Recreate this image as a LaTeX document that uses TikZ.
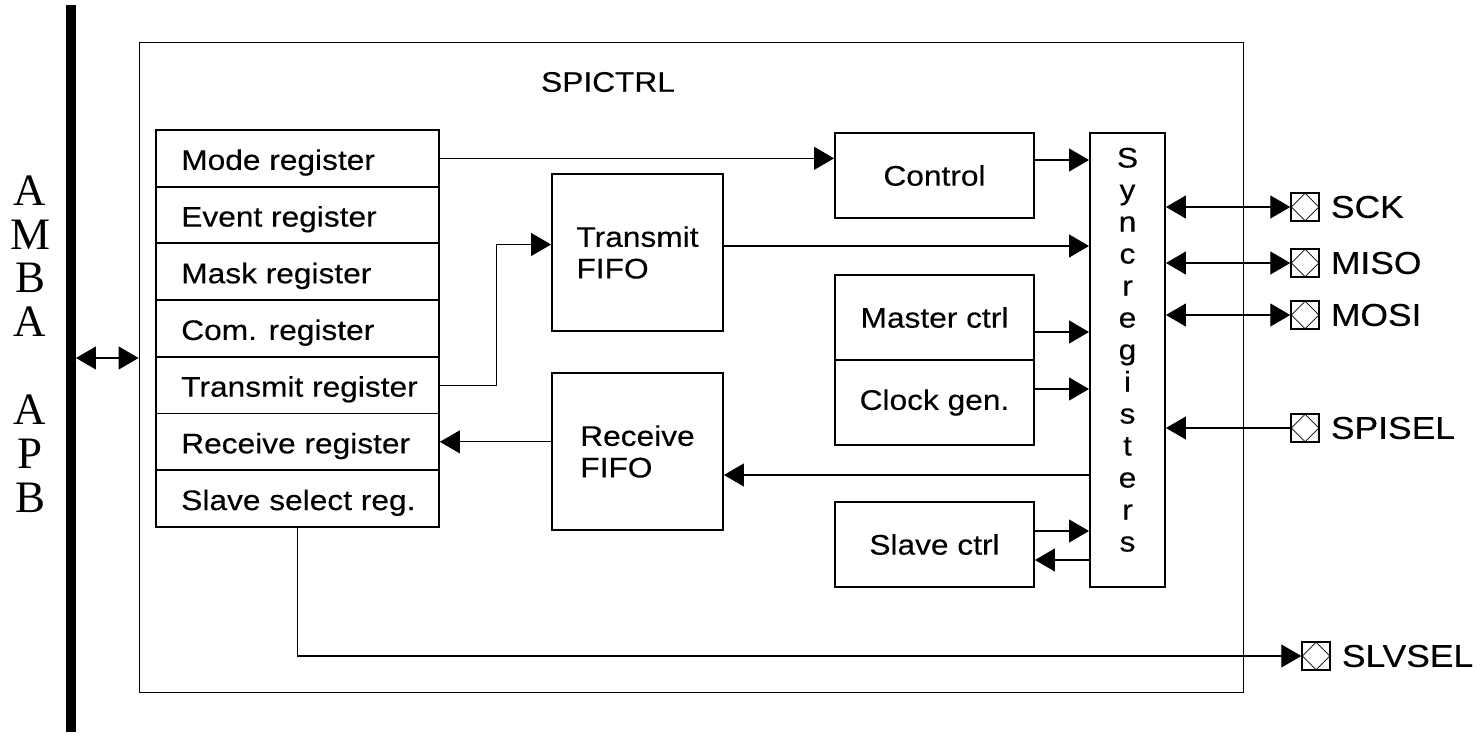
\documentclass[tikz,border=0pt]{standalone}
\usepackage{fontspec}
\setmainfont{Liberation Sans}[FakeStretch=1.12,FakeBold=0.3]
\newfontfamily\ambafont{Liberation Serif}
\usepackage{tikz}
\usetikzlibrary{arrows.meta}
\tikzset{
    Box/.style = {draw,line width=1.1pt,inner sep=0pt},
    Pad/.style = {draw,line width=1.1pt,minimum size=0.55cm,inner sep=0pt,
        path picture={\draw[line width=0.4pt] (path picture bounding box.north)
          -- (path picture bounding box.east) -- (path picture bounding box.south)
          -- (path picture bounding box.west) -- cycle;}},
    Wire/.style = {line width=0.6pt,>={Triangle[length=11.3pt,width=13pt]}},
    padtxt/.style = {font=\fontsize{18}{20}\selectfont,anchor=west}
}

\begin{document}
\begin{tikzpicture}[x=0.02cm,y=-0.02cm,font=\fontsize{16.1}{18}\selectfont]
        \useasboundingbox (0,0) rectangle (1482,740);
        % APB bus
        \coordinate (busT) at (71,5);
        \coordinate (busB) at (71,732);
        \draw[line width=0.2cm] (busT) -- (busB);
        \node[align=center,font=\ambafont\fontsize{25.6}{24.94}\selectfont] (amba) at (30,344)
            {A\\M\\B\\A\\[0.88cm]A\\P\\B};
        % core
        \node[draw,line width=0.6pt,minimum width=22.1cm,minimum height=13.02cm] (core) at (691.5,367.5) {};
        \node (title) at (608,82) {SPICTRL};
        \coordinate (busA) at (76,358);
        \draw[Wire,<->] (busA) -- (busA -| core.west);
        % registers
        \foreach \name [count=\i] in {Mode register,Event register,Mask register,Com. register,
            Transmit register,Receive register,Slave select reg.}
            {\node[Box,minimum width=5.66cm,minimum height=1.134cm] (reg\i) at (297.5,{130+56.7*(\i-0.5)}) {};
             \node[anchor=base west] (regt\i) at ([xshift=0.4cm,yshift=-0.23cm]reg\i.west) {\name};}
        % fifos
        \node[Box,align=left,minimum width=3.42cm,minimum height=3.14cm] (txfifo) at (637.5,252.5) {Transmit\\FIFO};
        \node[Box,align=left,minimum width=3.42cm,minimum height=3.14cm] (rxfifo) at (637.5,451.5) {Receive\\FIFO};
        % control blocks
        \node[Box,minimum width=3.98cm,minimum height=1.7cm] (control) at (934.5,175.5) {Control};
        \node[Box,minimum width=3.98cm,minimum height=1.7cm] (master) at (934.5,317.5) {Master ctrl};
        \node[Box,minimum width=3.98cm,minimum height=1.7cm] (clock) at (934.5,402.5) {Clock gen.};
        \node[Box,minimum width=3.98cm,minimum height=1.7cm] (slave) at (934.5,544.5) {Slave ctrl};
        \node[Box,minimum width=1.5cm,minimum height=9.08cm] (sync) at (1127.5,360) {};
        \foreach \ch [count=\i from 0] in {S,y,n,c,r,e,g,i,s,t,e,r,s}
            {\node[anchor=base] (sy\i) at (1127.5,{167.5+32*\i}) {\ch};}
        % pads
        \foreach \pname/\py in {SCK/207,MISO/263,MOSI/315,SPISEL/428}
            {\node[Pad] (p\pname) at (1305,\py) {};
             \node[padtxt] (t\pname) at ([xshift=0.1cm]p\pname.east) {\pname};}
        \node[Pad] (pSLVSEL) at (1316,656) {};
        \node[padtxt] (tSLVSEL) at ([xshift=0.1cm]pSLVSEL.east) {SLVSEL};
        % wires
        \coordinate (txO) at ([yshift=0.13cm]txfifo.east);
        \coordinate (txI) at ([yshift=0.16cm]txfifo.west);
        \coordinate (ctlO) at ([yshift=0.31cm]control.east);
        \coordinate (mstO) at ([yshift=-0.29cm]master.east);
        \coordinate (clkO) at ([yshift=0.27cm]clock.east);
        \coordinate (rxI) at ([yshift=-0.47cm]rxfifo.east);
        \coordinate (slvO) at ([yshift=0.27cm]slave.east);
        \coordinate (slvI) at ([yshift=-0.31cm]slave.east);
        \draw[Wire,->] (reg1.east) -- (reg1.east -| control.west);
        \draw[Wire,->] (reg5.east) -- ++(57,0) |- (txI);
        \draw[Wire,->] (txO) -- (txO -| sync.west);
        \draw[Wire,->] (ctlO) -- (ctlO -| sync.west);
        \draw[Wire,->] (mstO) -- (mstO -| sync.west);
        \draw[Wire,->] (clkO) -- (clkO -| sync.west);
        \draw[Wire,->] (rxI -| sync.west) -- (rxI);
        \draw[Wire,->] (rxfifo.west |- reg6.east) -- (reg6.east);
        \draw[Wire,->] (slvO) -- (slvO -| sync.west);
        \draw[Wire,->] (slvI -| sync.west) -- (slvI);
        \foreach \pname in {SCK,MISO,MOSI}
            {\draw[Wire,<->] (sync.east |- p\pname.west) -- (p\pname.west);}
        \draw[Wire,->] (pSPISEL.west) -- (sync.east |- pSPISEL.west);
        \draw[Wire,->] (reg7.south) |- (pSLVSEL.west);
\end{tikzpicture}
\end{document}
